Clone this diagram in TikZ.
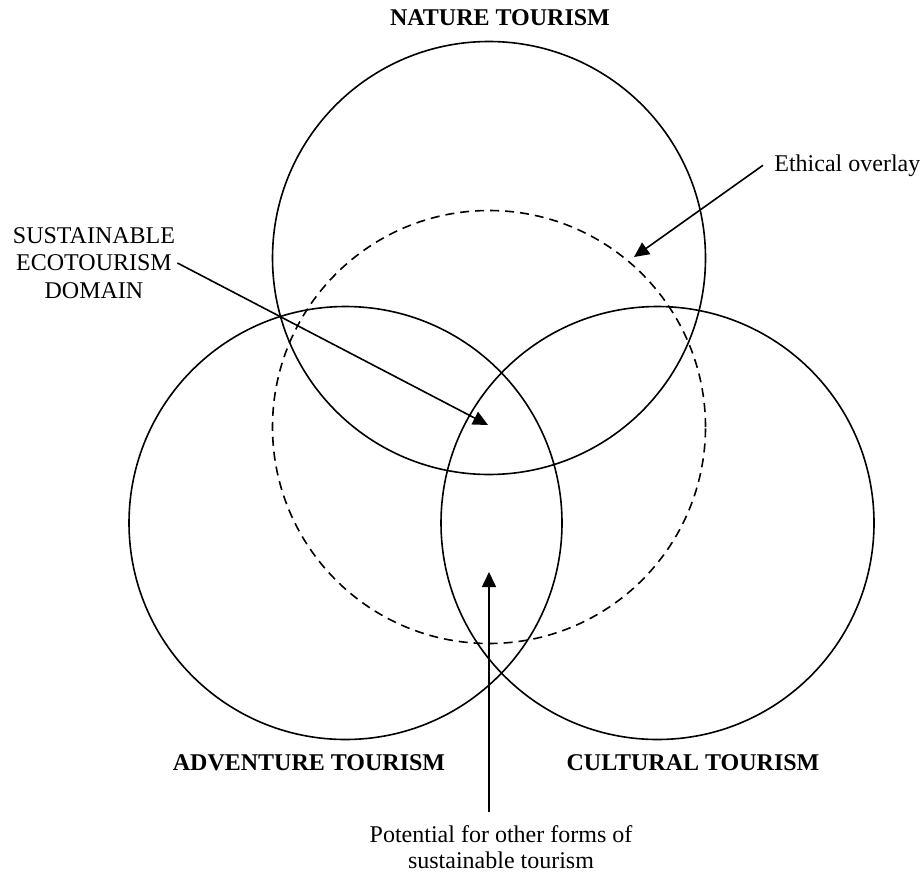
\documentclass[tikz,border=0pt]{standalone}
\usepackage{fontspec}
\setmainfont{Liberation Serif}
\usetikzlibrary{arrows.meta}
\tikzset{
	ring/.style = {circle, draw, line width=0.8pt, minimum size=216.5pt, inner sep=0pt},
	overlayring/.style = {ring, dash pattern=on 4.5pt off 3pt},
	heading/.style = {font=\fontsize{12}{13.8}\selectfont\bfseries, inner sep=1pt},
	note/.style = {font=\fontsize{12}{13.8}\selectfont, inner sep=1pt, align=center},
	pointer/.style = {line width=0.8pt, -{Triangle[length=7.5pt,width=7pt]}}
}
\begin{document}
\begin{tikzpicture} [x = 0.5pt, y = -0.5pt]
	\useasboundingbox (0,0) rectangle (920,872);
	% the three tourism circles and the ethical overlay
	\node [ring] (nature) at (489,258) {};
	\node [ring] (adventure) at (345.5,523) {};
	\node [ring] (cultural) at (657.5,523) {};
	\node [overlayring] (overlay) at (489,427) {};
	\node [heading, anchor = base] (naturetxt) at (500,26) {NATURE TOURISM};
	\node [heading, anchor = base] (adventuretxt) at (309,770) {ADVENTURE TOURISM};
	\node [heading, anchor = base] (culturaltxt) at (693,770) {CULTURAL TOURISM};
	\node [note, anchor = base west] (ethic) at (772,171) {Ethical overlay};
	\node [note] (eco) at (94,263) {SUSTAINABLE\\ECOTOURISM\\DOMAIN};
	\node [note, font = \fontsize{12}{13}\selectfont, anchor = north] (potential) at (501,823.5) {Potential for other forms of\\sustainable tourism};
	% arrow targets
	\coordinate (veil) at (634,257);
	\coordinate (core) at (488,425);
	\coordinate (other) at (489,572);
	\draw [pointer] ([xshift=-4.5pt]ethic.west) -- (veil);
	\draw [pointer] (eco.east) -- (core);
	\draw [pointer] (other |- potential.north) ++(0,-11.5) -- (other);
\end{tikzpicture}
\end{document}
